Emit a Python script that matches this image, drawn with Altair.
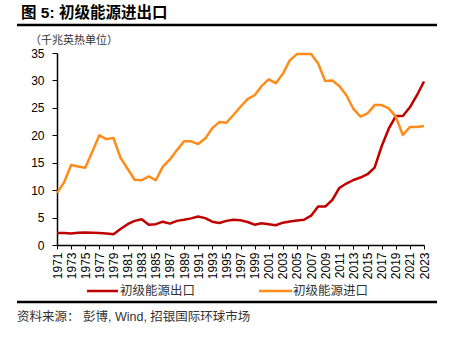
import altair as alt
import pandas as pd

years = list(range(1971, 2024))
exports = [2.2, 2.2, 2.1, 2.25, 2.3, 2.25, 2.2, 2.1, 1.95, 2.9,
           3.8, 4.4, 4.7, 3.7, 3.8, 4.25, 3.9, 4.4, 4.6, 4.85,
           5.2, 4.9, 4.25, 4.0, 4.4, 4.6, 4.5, 4.2, 3.7, 3.95,
           3.8, 3.6, 4.07, 4.3, 4.45, 4.6, 5.35, 7.0, 7.0, 8.2,
           10.4, 11.2, 11.85, 12.3, 12.9, 14.1, 18.0, 21.2, 23.5, 23.5,
           25.1, 27.3, 29.8]
imports = [9.5, 11.4, 14.6, 14.3, 14.1, 17.0, 20.0, 19.3, 19.5, 15.9,
           13.9, 11.9, 11.8, 12.5, 11.8, 14.3, 15.6, 17.3, 18.9, 18.9,
           18.4, 19.4, 21.3, 22.4, 22.3, 23.7, 25.2, 26.6, 27.3, 29.0,
           30.2, 29.5, 31.2, 33.7, 34.8, 34.8, 34.8, 33.1, 29.9, 30.0,
           29.0, 27.3, 24.8, 23.4, 24.0, 25.5, 25.5, 24.9, 23.4, 20.05,
           21.5, 21.5, 21.7]
series_names = ["初级能源出口", "初级能源进口"]
series_colors = ["#C00000", "#FF8C1A"]
y_ticks = [0, 5, 10, 15, 20, 25, 30, 35]
x_ticks = list(range(1971, 2024, 2))

df = pd.DataFrame({
    "year": years * 2,
    "value": exports + imports,
    "series": [series_names[0]] * len(years) + [series_names[1]] * len(years),
})

W, H = 367, 192
FONT_LAT = "Liberation Sans"
FONT_CJK = "Liberation Sans, Noto Sans CJK SC"

lines = alt.Chart(df).mark_line(strokeWidth=2.5, strokeJoin="round").encode(
    x=alt.X("year:Q", scale=alt.Scale(domain=[1971, 2023], nice=False, zero=False),
            axis=alt.Axis(values=x_ticks, format="d", labelAngle=-90, labelFontSize=12,
                          labelFont=FONT_LAT, labelColor="black", labelPadding=3,
                          domainColor="black", domainWidth=1.5, tickColor="black",
                          tickSize=4, tickWidth=1, grid=False, title=None,
                          labelOverlap=False, labelFlush=False)),
    y=alt.Y("value:Q", scale=alt.Scale(domain=[0, 35], nice=False),
            axis=alt.Axis(values=y_ticks, labelFontSize=12, labelFont=FONT_LAT,
                          labelColor="black", labelPadding=8, domainColor="black",
                          domainWidth=1.5, tickColor="black", tickSize=5, tickWidth=1,
                          grid=False, title=None)),
    color=alt.Color("series:N", scale=alt.Scale(domain=series_names, range=series_colors),
                    legend=None),
    order="year:Q",
)

one = alt.Data(values=[{"a": 1}])


def text(t, x, y, size=11, weight="normal", color="#222222", baseline="alphabetic", font=FONT_CJK):
    return alt.Chart(one).mark_text(text=t, fontSize=size, fontWeight=weight, color=color,
                                    align="left", baseline=baseline, font=font).encode(
        x=alt.value(x), y=alt.value(y))


def rule(x1, x2, y, color="black", width=2.5):
    return alt.Chart(one).mark_rule(color=color, strokeWidth=width).encode(
        x=alt.value(x1), x2=alt.value(x2), y=alt.value(y))


layers = [
    lines,
    text("图 5: 初级能源进出口", -36, -35, size=15.5, weight="bold", color="black"),
    rule(-40, 380, -28),
    text("（千兆英热单位）", -27, -9, size=11, color="#333333"),
    rule(30, 61, 238, color=series_colors[0], width=2.5),
    text(series_names[0], 63, 238, size=12.5, baseline="middle", color="#333333"),
    rule(202, 235, 238, color=series_colors[1], width=2.5),
    text(series_names[1], 236, 238, size=12.5, baseline="middle", color="#333333"),
    rule(-40, 380, 249),
    text("资料来源：  彭博, Wind, 招银国际环球市场", -40, 268, size=12.5, color="#333333"),
]

chart = alt.layer(*layers).properties(
    width=W, height=H,
    autosize=alt.AutoSizeParams(type="none"),
    padding={"left": 57, "top": 53, "right": 27, "bottom": 92},
    background="white",
).configure_view(stroke=None)

chart.save("out.html", embed_options={"renderer": "svg", "actions": False})
